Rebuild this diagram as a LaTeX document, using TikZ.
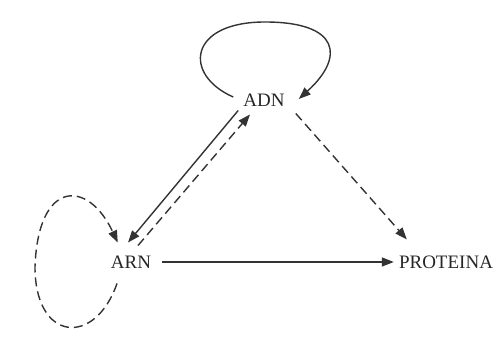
\documentclass[tikz,border=0pt]{standalone}
\usepackage{fontspec}
\setmainfont{Liberation Serif}
\usetikzlibrary{arrows.meta}
\begin{document}
\begin{tikzpicture}[x=1pt,y=1pt,
	every node/.style={inner xsep=5pt,inner ysep=4pt,text=black!85,font=\fontsize{19}{22}\selectfont},
	flecha/.style={draw=black!80,line width=1.4pt,-{Triangle[length=12pt,width=9pt]}},
	discont/.style={dash pattern=on 9pt off 5pt}]
	\useasboundingbox (0,0) rectangle (501,347);
	\node (adn) at (264,247) {ADN};
	\node (arn) at (131,85) {ARN};
	\node (prot) at (446,85) {PROTEINA};
	% lazos
	\draw[flecha] ([shift={(-5,3)}]adn.west) .. controls (183,272) and (188,325) .. (265,325)
		.. controls (340,325) and (345,290) .. ([shift={(9,1)}]adn.east);
	\draw[flecha,discont] ([shift={(-14,-11)}]arn.south) .. controls (95,0) and (35,5) .. (35,80)
		.. controls (38,168) and (88,168) .. ([shift={(12,9)}]arn.north west);
	% flechas
	\draw[flecha] (adn.south west) -- ([shift={(-3,9)}]arn.north);
	\draw[flecha,discont] ([shift={(7,6)}]arn.north) -- ([shift={(-14,-4)}]adn.south);
	\draw[flecha,discont] ([shift={(6,-3)}]adn.south east) -- ([shift={(13,12)}]prot.north west);
	\draw[flecha,shorten <=6pt] (arn) -- (prot);
\end{tikzpicture}
\end{document}
